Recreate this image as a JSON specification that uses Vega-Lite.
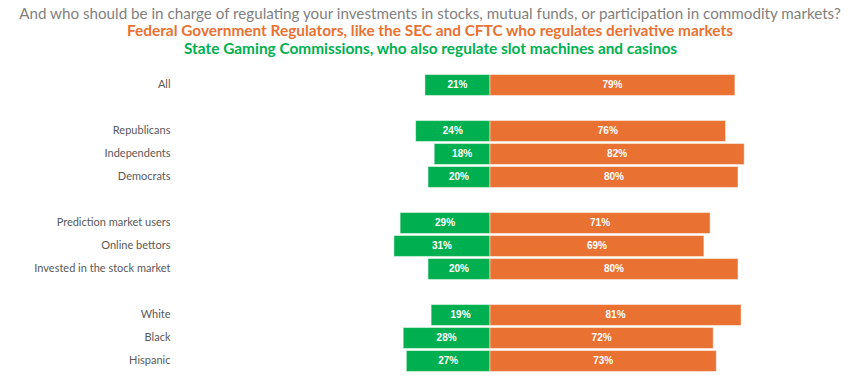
{
  "$schema": "https://vega.github.io/schema/vega-lite/v6.json",
  "autosize": "none",
  "padding": {"left": 180, "top": 73.5, "right": 60, "bottom": 0},
  "width": 620,
  "height": 299,
  "background": "white",
  "config": {"view": {"stroke": null}},
  "title": {
    "text": "And who should be in charge of regulating your investments in stocks, mutual funds, or participation in commodity markets?",
    "subtitle": "Federal Government Regulators, like the SEC and CFTC who regulates derivative markets",
    "font": "Lato",
    "fontSize": 15.2,
    "fontWeight": "normal",
    "color": "#7F7F7F",
    "subtitleFont": "Lato",
    "subtitleFontSize": 15.4,
    "subtitleFontWeight": "bold",
    "subtitleColor": "#E97132",
    "subtitlePadding": 2,
    "anchor": "middle",
    "dx": -60,
    "offset": 2
  },
  "data": {
    "values": [
      {"group": "All", "side": "State", "value": -21, "label": "21%"},
      {"group": "All", "side": "Federal", "value": 79, "label": "79%"},
      {"group": "Republicans", "side": "State", "value": -24, "label": "24%"},
      {"group": "Republicans", "side": "Federal", "value": 76, "label": "76%"},
      {"group": "Independents", "side": "State", "value": -18, "label": "18%"},
      {"group": "Independents", "side": "Federal", "value": 82, "label": "82%"},
      {"group": "Democrats", "side": "State", "value": -20, "label": "20%"},
      {"group": "Democrats", "side": "Federal", "value": 80, "label": "80%"},
      {"group": "Prediction market users", "side": "State", "value": -29, "label": "29%"},
      {"group": "Prediction market users", "side": "Federal", "value": 71, "label": "71%"},
      {"group": "Online bettors", "side": "State", "value": -31, "label": "31%"},
      {"group": "Online bettors", "side": "Federal", "value": 69, "label": "69%"},
      {"group": "Invested in the stock market", "side": "State", "value": -20, "label": "20%"},
      {"group": "Invested in the stock market", "side": "Federal", "value": 80, "label": "80%"},
      {"group": "White", "side": "State", "value": -19, "label": "19%"},
      {"group": "White", "side": "Federal", "value": 81, "label": "81%"},
      {"group": "Black", "side": "State", "value": -28, "label": "28%"},
      {"group": "Black", "side": "Federal", "value": 72, "label": "72%"},
      {"group": "Hispanic", "side": "State", "value": -27, "label": "27%"},
      {"group": "Hispanic", "side": "Federal", "value": 73, "label": "73%"}
    ]
  },
  "encoding": {
    "y": {
      "field": "group",
      "type": "nominal",
      "title": null,
      "scale": {
        "domain": ["All", " ", "Republicans", "Independents", "Democrats", "  ", "Prediction market users", "Online bettors", "Invested in the stock market", "   ", "White", "Black", "Hispanic"],
        "paddingInner": 0.09,
        "paddingOuter": 0.045
      },
      "axis": {
        "domain": false,
        "ticks": false,
        "labelPadding": 10,
        "labelFont": "Lato",
        "labelFontSize": 11,
        "labelColor": "#595959"
      }
    }
  },
  "layer": [
    {
      "mark": {"type": "bar", "stroke": "white", "strokeWidth": 0.5},
      "encoding": {
        "x": {
          "field": "value",
          "type": "quantitative",
          "stack": null,
          "scale": {"domain": [-100, 100], "nice": false},
          "axis": {
            "orient": "top",
            "labels": false,
            "ticks": false,
            "domain": false,
            "grid": false,
            "title": "State Gaming Commissions, who also regulate slot machines and casinos",
            "titleFont": "Lato",
            "titleFontSize": 15.4,
            "titleFontWeight": "bold",
            "titleColor": "#00B050",
            "titleX": 250,
            "titleAlign": "center",
            "titlePadding": 17
          }
        },
        "color": {
          "field": "side",
          "type": "nominal",
          "scale": {"domain": ["State", "Federal"], "range": ["#00B050", "#E97132"]},
          "legend": null
        }
      }
    },
    {
      "mark": {"type": "rule", "color": "#D9D9D9", "strokeWidth": 1},
      "encoding": {"x": {"datum": 0, "type": "quantitative"}}
    },
    {
      "transform": [{"calculate": "datum.value / 2", "as": "mid"}],
      "mark": {"type": "text", "color": "white", "fontWeight": "bold", "font": "Liberation Sans", "fontSize": 10},
      "encoding": {
        "x": {"field": "mid", "type": "quantitative"},
        "text": {"field": "label"}
      }
    }
  ]
}
